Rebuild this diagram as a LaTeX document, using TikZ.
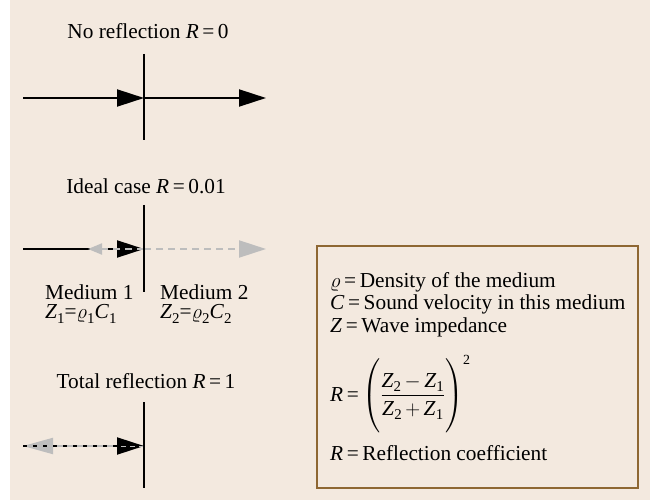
\documentclass[tikz,border=0pt]{standalone}
\usepackage{amsmath}
\usepackage{fontspec}
\setmainfont{Liberation Serif}
\usetikzlibrary{arrows.meta}
\definecolor{bgc}{HTML}{F3E9DF}
\definecolor{boxc}{HTML}{8E6733}
\definecolor{grayc}{HTML}{BDBDBD}
\newcommand{\itx}[1]{\textit{#1}}
\newcommand{\sbs}[1]{\raisebox{-0.22em}{\fontsize{15}{15}\selectfont #1}}
\begin{document}
\begin{tikzpicture}[x=1bp,y=-1bp,
  txt/.style={font=\fontsize{21.4}{25}\selectfont, inner sep=0pt},
  wall/.style={line width=2.3bp, black},
  bigtip/.style={-{Triangle[length=27bp,width=17bp]}},
  incid/.style={line width=2bp, black, bigtip},
  refl/.style={line width=2bp, grayc, dash pattern=on 7bp off 5bp},
  dotdash/.style={line width=2bp, black, dash pattern=on 4bp off 6bp}]
\useasboundingbox (0,0) rectangle (650,500);
\fill[bgc] (10,0) rectangle (650,500);

% --- No reflection
\node[txt] (t1) at (148,31) {No reflection \itx{R}\,=\,0};
\coordinate (w1a) at (144,54); \coordinate (w1b) at (144,140);
\coordinate (s1) at (23,98); \coordinate (m1) at (144,98); \coordinate (e1) at (266,98);
\draw[incid] (s1) -- (m1);
\draw[incid] (m1) -- (e1);
\draw[wall] (w1a) -- (w1b);

% --- Ideal case
\node[txt] (t2) at (146,186) {Ideal case \itx{R}\,=\,0.01};
\coordinate (w2a) at (144,205); \coordinate (w2b) at (144,292);
\coordinate (s2) at (23,249); \coordinate (m2) at (144,249); \coordinate (e2) at (266,249);
\coordinate (r2) at (88,249);
\draw[incid] (s2) -- (m2);
\draw[refl, -{Triangle[length=14bp,width=11bp]}] (m2) -- (r2);
\draw[refl, bigtip] (m2) -- (e2);
\draw[wall] (w2a) -- (w2b);
\node[txt, anchor=west] (med1) at (45,292) {Medium 1};
\node[txt, anchor=west] (med2) at (160,292) {Medium 2};
\node[txt, anchor=west] (z1) at (45,314) {\itx{Z}\sbs{1}=$\varrho$\sbs{1}\itx{C}\sbs{1}};
\node[txt, anchor=west] (z2) at (160,314) {\itx{Z}\sbs{2}=$\varrho$\sbs{2}\itx{C}\sbs{2}};

% --- Total reflection
\node[txt] (t3) at (146,381) {Total reflection \itx{R}\,=\,1};
\coordinate (w3a) at (144,402); \coordinate (w3b) at (144,488);
\coordinate (s3) at (23,446); \coordinate (m3) at (144,446);
\draw[line width=2bp, grayc, -{Triangle[length=30bp,width=16bp]}] (m3) -- (s3);
\draw[dotdash, bigtip] (s3) -- (m3);
\draw[line width=1bp, grayc, dash pattern=on 5bp off 4bp] (m3) -- ++(-27,0);
\draw[wall] (w3a) -- (w3b);

% --- Legend box
\node[draw=boxc, line width=1.5bp, minimum width=321bp, minimum height=242bp, inner sep=0pt, anchor=north west] (box) at (316,245) {};
\node[txt, anchor=west] (l1) at (330,282) {$\varrho$\,=\,Density of the medium};
\node[txt, anchor=west] (l2) at (330,304) {\itx{C}\,=\,Sound velocity in this medium};
\node[txt, anchor=west] (l3) at (330,327) {\itx{Z}\,=\,Wave impedance};
\node[txt, anchor=west] (l4) at (330,394) {\itx{R}\,=\,$\left(\rule[-31bp]{0pt}{64bp}\dfrac{\mbox{\itx{Z}\sbs{2}\,$-$\,\itx{Z}\sbs{1}}}{\mbox{\itx{Z}\sbs{2}\,$+$\,\itx{Z}\sbs{1}}}\right)^{\mbox{\fontsize{14}{14}\selectfont 2}}$};
\node[txt, anchor=west] (l5) at (330,453) {\itx{R}\,=\,Reflection coefficient};
\end{tikzpicture}
\end{document}
